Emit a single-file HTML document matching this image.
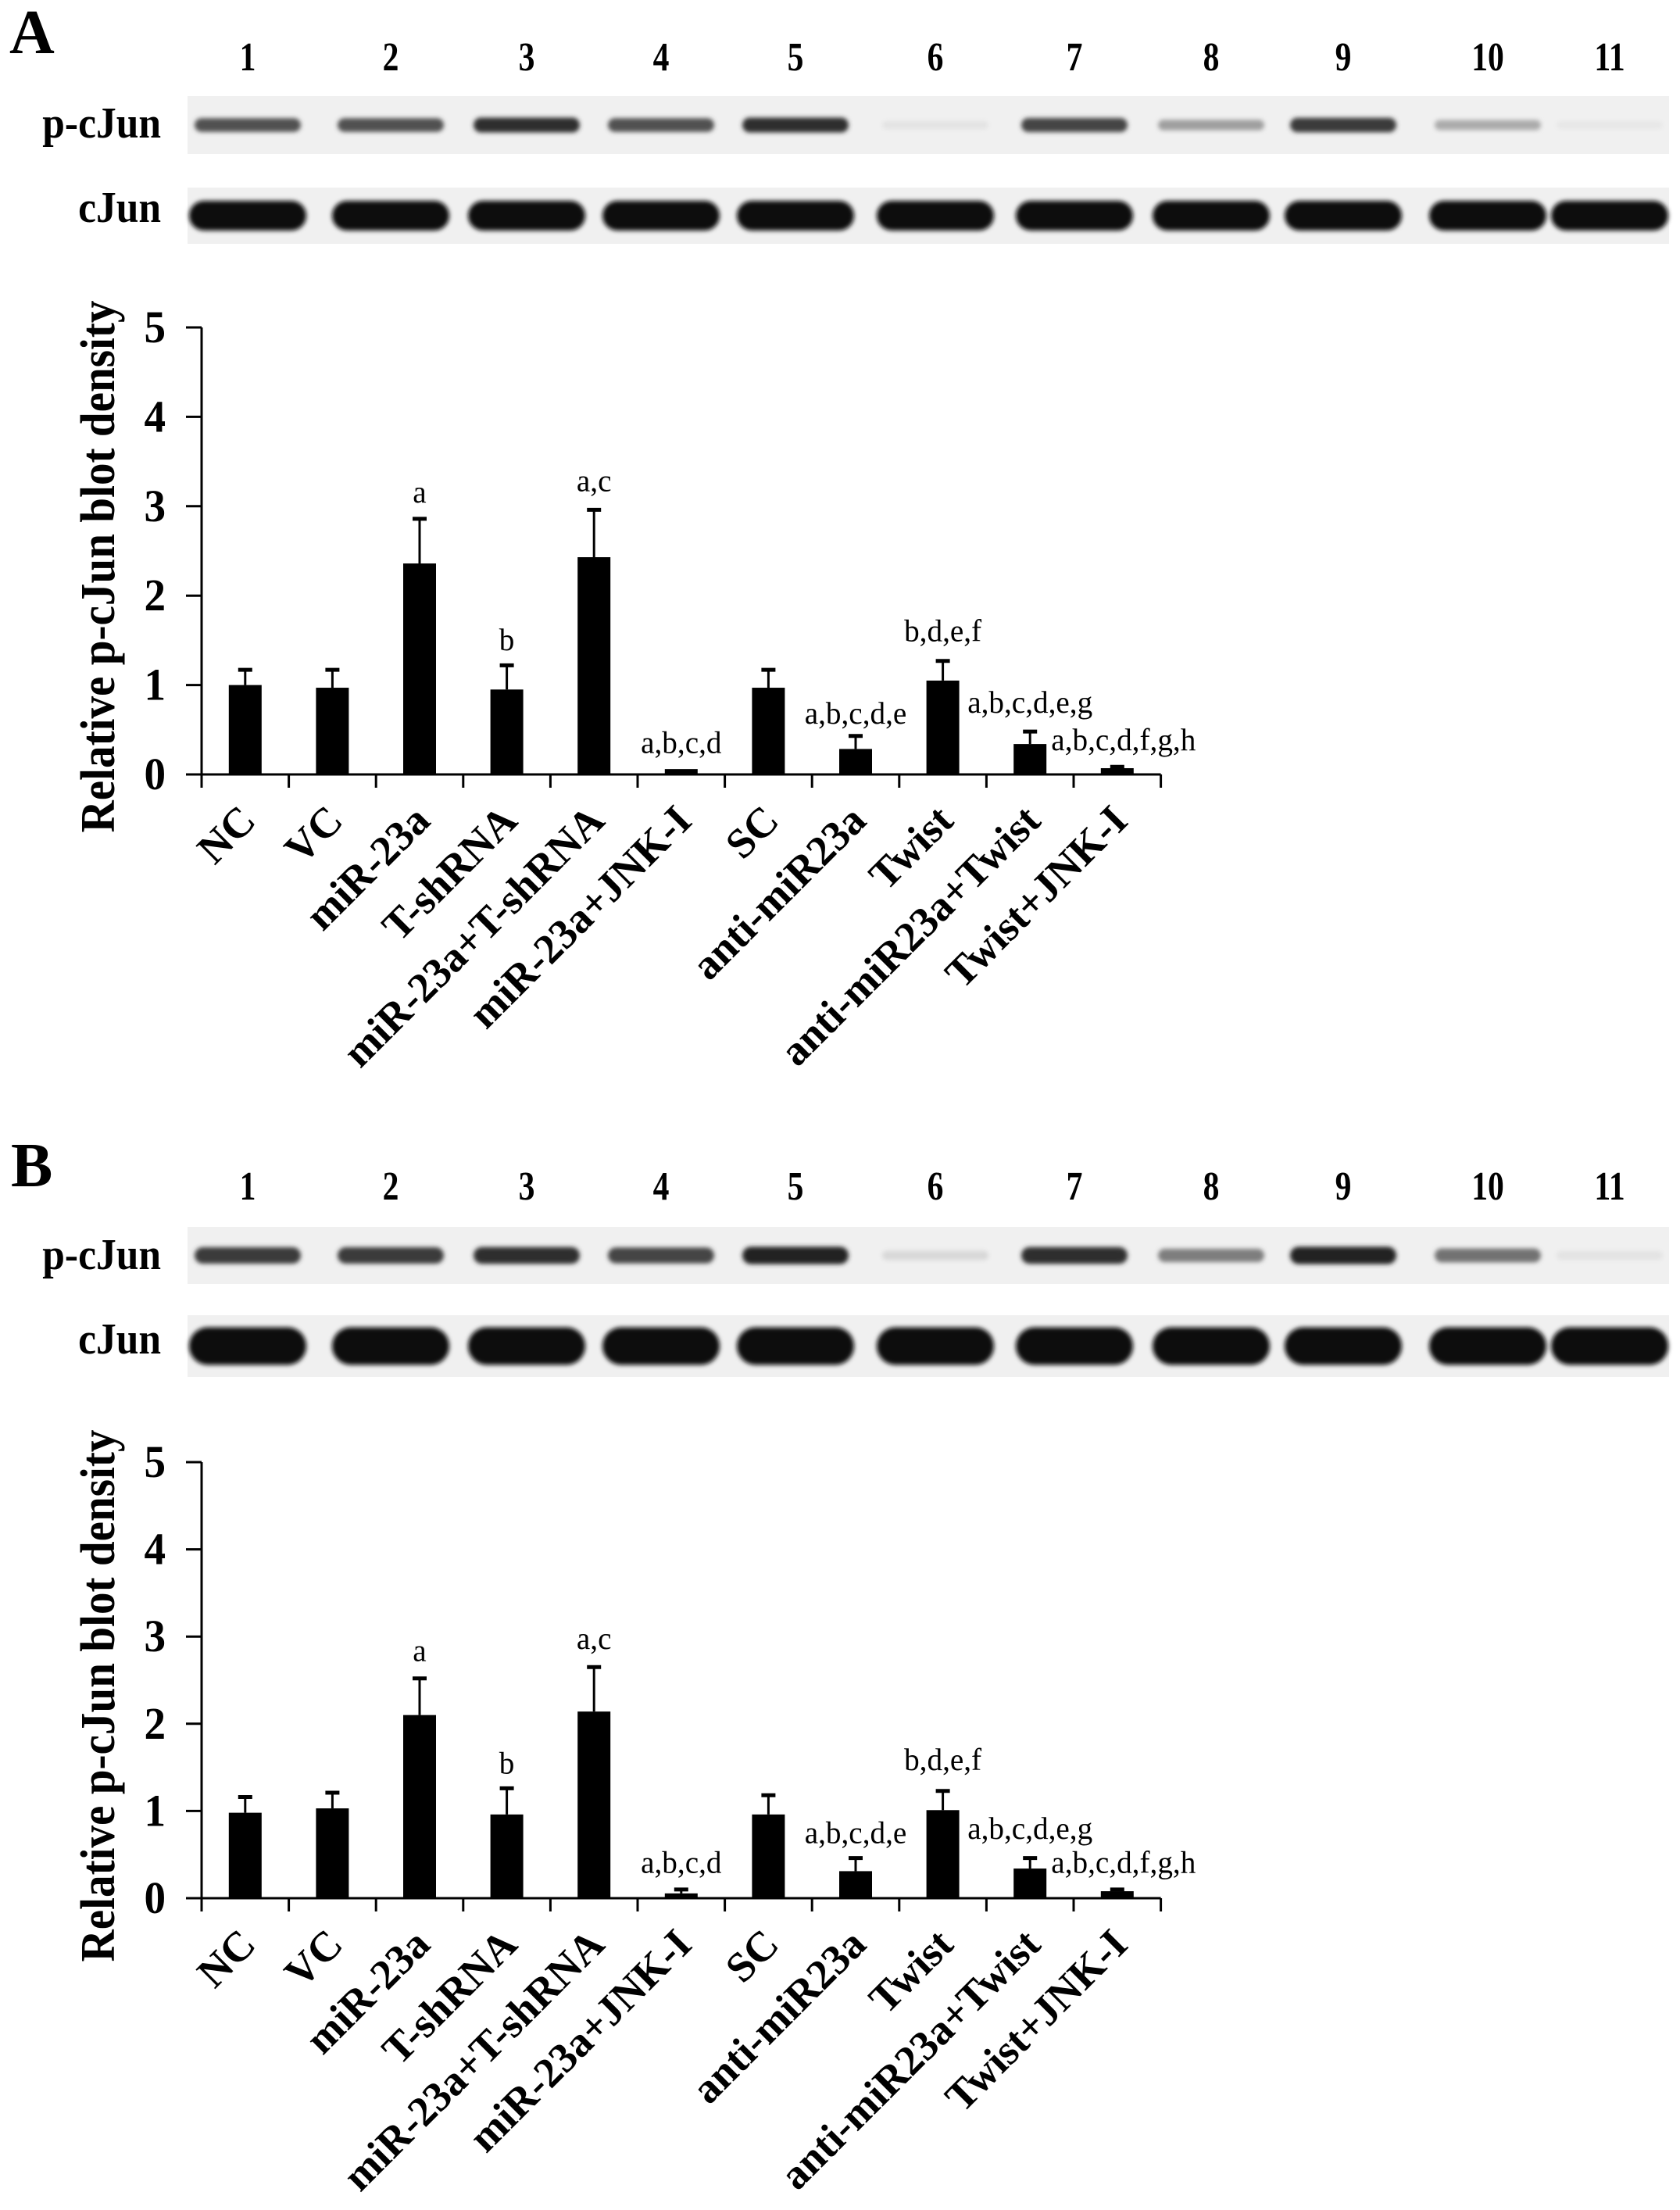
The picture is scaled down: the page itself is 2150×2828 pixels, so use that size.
<!DOCTYPE html>
<html><head><meta charset="utf-8"><style>
html,body{margin:0;padding:0;background:#fff;}
svg{display:block;}
text{font-family:"Liberation Serif","Times New Roman",serif;fill:#000;}
</style></head><body>
<svg id="fig" width="2150" height="2828" viewBox="0 0 2150 2828" xmlns="http://www.w3.org/2000/svg">
<defs>
<filter id="blur" x="-20%" y="-50%" width="140%" height="200%"><feGaussianBlur stdDeviation="3"/></filter>
</defs>
</svg>
<script>
const categories = ["NC","VC","miR-23a","T-shRNA","miR-23a+T-shRNA","miR-23a+JNK-I","SC","anti-miR23a","Twist","anti-miR23a+Twist","Twist+JNK-I"];
const yTicks = [0,1,2,3,4,5];
const laneNumbers = ["1","2","3","4","5","6","7","8","9","10","11"];
const sigLabels = ["","","a","b","a,c","a,b,c,d","","a,b,c,d,e","b,d,e,f","a,b,c,d,e,g","a,b,c,d,f,g,h"];

const valuesA = [1.0,0.97,2.36,0.95,2.43,0.06,0.97,0.285,1.05,0.34,0.07];
const errTopA = [1.17,1.17,2.86,1.22,2.96,0.06,1.17,0.43,1.27,0.48,0.085];
const labelLevelA = [0,0,3.04,1.39,3.17,0.24,0,0.57,1.49,0.69,0.27];
const pBandA = [0.7,0.7,0.85,0.7,0.85,0.05,0.75,0.35,0.8,0.3,0.03];

const valuesB = [0.98,1.03,2.10,0.96,2.14,0.055,0.96,0.31,1.01,0.34,0.08];
const errTopB = [1.16,1.21,2.52,1.26,2.65,0.10,1.18,0.46,1.23,0.46,0.10];
const labelLevelB = [0,0,2.72,1.43,2.86,0.29,0,0.63,1.47,0.68,0.29];
const pBandB = [0.8,0.8,0.85,0.75,0.9,0.1,0.85,0.5,0.9,0.55,0.05];

const NS = "http://www.w3.org/2000/svg";
const svg = document.getElementById('fig');
function mk(tag, attrs, parent){
  const e = document.createElementNS(NS, tag);
  for (const k in attrs) e.setAttribute(k, attrs[k]);
  (parent||svg).appendChild(e);
  return e;
}
const laneX = [317,500,674,846,1018,1197,1375,1550,1719,1904,2060];

function panel(cfg){
  const g = mk('g', {});
  
  
  const L = mk('text', {x:cfg.letterX, y:cfg.letterY, 'font-size':80, 'font-weight':'bold'}, g);
  L.textContent = cfg.id.toUpperCase();
  
  
  laneNumbers.forEach((n,i)=>{
    const t = mk('text', {x:0, y:0, 'font-size':52, 'font-weight':'bold', 'text-anchor':'middle',
      transform:'translate('+laneX[i]+','+cfg.laneY+') scale(0.8,1)'}, g);
    t.textContent = n;
    
    
  });
  const rows = [
    {name:'p-cJun', y0:cfg.pY0, y1:cfg.pY1, base:cfg.pBase, bandH:cfg.pBandH, amp:cfg.pBand},
    {name:'cJun', y0:cfg.cY0, y1:cfg.cY1, base:cfg.cBase, bandH:cfg.cBandH, amp:null}
  ];
  rows.forEach(r=>{
    const strip = mk('rect', {x:240, y:r.y0, width:1896, height:r.y1-r.y0, fill:'#f0f0f0'}, g);
    
    
    const lab = mk('text', {x:0, y:0, 'font-size':56, 'font-weight':'bold', 'text-anchor':'end',
      transform:'translate(206,'+r.base+') scale(0.92,1)'}, g);
    lab.textContent = r.name;
    
    
    const cy = (r.y0 + r.y1)/2;
    laneX.forEach((x,i)=>{
      const a = r.amp ? r.amp[i] : 1;
      const shade = Math.round(238 - a*225);
      const h = r.amp ? r.bandH*(0.6+0.7*a) : r.bandH;
      const w = r.amp ? 136 : 150;
      const b = mk('rect', {x:x-w/2, y:cy-h/2, width:w, height:h, rx:h/2, ry:h/2,
        fill:'rgb('+Math.max(shade,5)+','+Math.max(shade,5)+','+Math.max(shade,5)+')', filter:'url(#blur)'}, g);
      
      
    });
  });
  const ax0 = 258, catW = 111.6;
  const y0 = cfg.axisY0, unit = cfg.unit;
  const X = i => ax0 + catW*(i+0.5);
  const Y = v => y0 - v*unit;
  const axisRight = ax0 + catW*categories.length;
  const ya = mk('line', {x1:ax0, y1:Y(5), x2:ax0, y2:y0, stroke:'#000', 'stroke-width':3}, g);
  
  
  const xa = mk('line', {x1:ax0-20, y1:y0, x2:axisRight, y2:y0, stroke:'#000', 'stroke-width':3}, g);
  
  
  yTicks.forEach(t=>{
    const tl = mk('line', {x1:ax0-20, y1:Y(t), x2:ax0, y2:Y(t), stroke:'#000', 'stroke-width':3}, g);
    
    
    const tt = mk('text', {x:0, y:0, 'font-size':58, 'font-weight':'bold', 'text-anchor':'end',
      transform:'translate(212,'+(Y(t)+19)+') scale(0.95,1)'}, g);
    tt.textContent = String(t);
    
    
  });
  for (let i=0;i<=categories.length;i++){
    const xt = mk('line', {x1:ax0+catW*i, y1:y0, x2:ax0+catW*i, y2:y0+17, stroke:'#000', 'stroke-width':3}, g);
    
    
  }
  const yt = mk('text', {x:0, y:0, 'font-size':62, 'font-weight':'bold', 'text-anchor':'middle',
    textLength:681, lengthAdjust:'spacingAndGlyphs',
    transform:'translate(146,'+(Y(2.5)+20)+') rotate(-90)'}, g);
  yt.textContent = 'Relative p-cJun blot density';
  
  
  categories.forEach((c,i)=>{
    const v = cfg.values[i], e = cfg.errTop[i];
    const bar = mk('rect', {x:X(i)-21, y:Y(v), width:42, height:y0-Y(v), fill:'#000'}, g);
    
    
    if (e > v + 0.01){
      const el = mk('line', {x1:X(i), y1:Y(e), x2:X(i), y2:Y(v), stroke:'#000', 'stroke-width':3}, g);
      
      
      const cap = mk('line', {x1:X(i)-9, y1:Y(e), x2:X(i)+9, y2:Y(e), stroke:'#000', 'stroke-width':5}, g);
      
      
    }
    if (sigLabels[i]){
      const s = mk('text', {x:0, y:0, 'font-size':40, 'text-anchor':'middle',
        transform:'translate('+(X(i)+(i===10?8:0))+','+Y(cfg.labelLevel[i])+') scale(0.98,1)'}, g);
      s.textContent = sigLabels[i];
      
      
    }
    const xl = mk('text', {x:0, y:0, 'font-size':54, 'font-weight':'bold', 'text-anchor':'end',
      transform:'translate('+(X(i)+16)+','+(y0+62)+') rotate(-45) scale(1.0,1)'}, g);
    xl.textContent = c;
    
    
  });
}

panel({id:'a', letterX:12, letterY:68, laneY:90,
  pY0:123, pY1:197, pBase:176, pBandH:16, pBand:pBandA,
  cY0:240, cY1:312, cBase:284, cBandH:38,
  axisY0:991, unit:114.4, values:valuesA, errTop:errTopA, labelLevel:labelLevelA});
panel({id:'b', letterX:14, letterY:1518, laneY:1535,
  pY0:1570, pY1:1643, pBase:1624, pBandH:18, pBand:pBandB,
  cY0:1683, cY1:1762, cBase:1732, cBandH:48,
  axisY0:2429, unit:111.6, values:valuesB, errTop:errTopB, labelLevel:labelLevelB});
</script>
</body></html>
